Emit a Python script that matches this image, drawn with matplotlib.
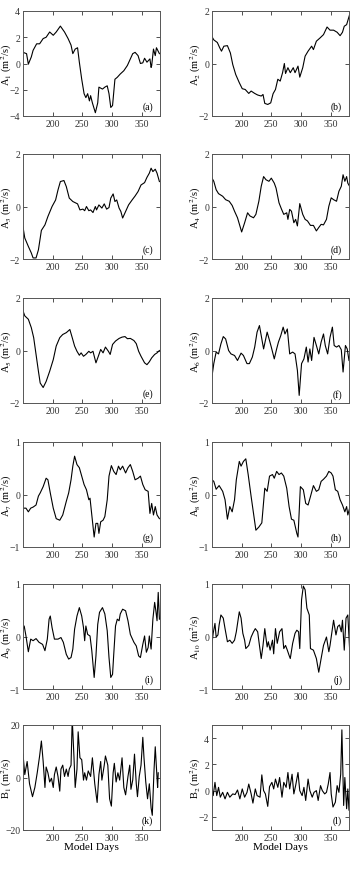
import matplotlib
matplotlib.use('Agg')
import matplotlib.pyplot as plt

plt.rcParams['font.family'] = ['Liberation Serif', 'DejaVu Serif']
plt.rcParams['mathtext.fontset'] = 'stix'

# (a) A1
day_a = [150, 156, 159, 164, 167, 173, 178, 184, 189, 195, 201, 206, 213, 220, 226, 231, 234, 238, 242, 245,
         249, 253, 256, 259, 262, 264, 267, 272, 276, 278, 284, 288, 292, 295, 298, 301, 305, 309, 314, 320,
         326, 331, 335, 339, 344, 348, 352, 355, 359, 364, 366, 367, 370, 373, 375, 380]
val_a = [0.85, 0.75, -0.05, 0.5, 1.0, 1.5, 1.5, 1.9, 2.0, 2.4, 2.15, 2.4, 2.85, 2.4, 1.9, 1.4, 0.75, 1.1, 1.2, 0.1,
         -1.2, -2.3, -2.6, -2.3, -2.85, -2.45, -3.0, -3.75, -3.0, -1.8, -1.95, -1.8, -1.7, -2.3, -3.35, -3.2, -1.2, -1.05, -0.8, -0.55,
         -0.15, 0.35, 0.75, 0.85, 0.6, 0.0, 0.05, 0.4, 0.1, 0.35, -0.3, -0.15, 1.1, 0.6, 1.2, 0.75]

# (b) A2
day_b = [149, 153, 159, 163, 166, 170, 176, 181, 185, 190, 196, 201, 206, 212, 216, 222, 227, 233, 236, 239,
         244, 249, 253, 257, 261, 265, 269, 272, 274, 278, 282, 287, 290, 295, 298, 303, 307, 312, 318, 321,
         326, 332, 338, 344, 349, 355, 361, 366, 370, 373, 377, 382]
val_b = [1.06, 0.9, 0.8, 0.6, 0.47, 0.66, 0.68, 0.4, -0.04, -0.42, -0.73, -0.96, -0.99, -1.14, -1.05, -1.14, -1.2, -1.24, -1.18, -1.52,
         -1.56, -1.5, -1.15, -0.99, -0.6, -0.67, -0.35, 0.0, -0.38, -0.16, -0.35, -0.16, -0.35, -0.1, -0.52, -0.16, 0.28, 0.47, 0.66, 0.53,
         0.85, 0.97, 1.1, 1.39, 1.27, 1.27, 1.19, 1.06, 1.19, 1.42, 1.48, 1.86]

# (c) A3
day_c = [150, 153, 159, 164, 167, 172, 176, 181, 187, 192, 199, 205, 209, 213, 219, 223, 228, 234, 242, 246,
         251, 254, 257, 261, 264, 268, 272, 274, 278, 283, 287, 291, 295, 298, 302, 305, 308, 312, 315, 318,
         323, 328, 334, 339, 344, 349, 355, 359, 363, 366, 369, 373, 376, 380]
val_c = [-0.78, -1.2, -1.52, -1.77, -1.96, -1.96, -1.65, -0.91, -0.7, -0.38, 0.0, 0.25, 0.63, 0.95, 0.99, 0.76, 0.32, 0.19, 0.1, -0.13,
         -0.1, -0.16, 0.0, -0.16, -0.13, -0.23, 0.0, -0.13, 0.06, -0.06, 0.1, -0.1, -0.04, 0.32, 0.48, 0.19, 0.25, -0.06, -0.19, -0.44,
         -0.19, 0.06, 0.25, 0.4, 0.57, 0.82, 0.91, 1.11, 1.27, 1.46, 1.33, 1.42, 1.27, 0.95]

# (d) A4
day_d = [149, 153, 157, 161, 168, 173, 179, 184, 188, 193, 200, 205, 210, 214, 220, 224, 229, 233, 237, 241,
         246, 250, 255, 258, 263, 267, 271, 276, 278, 281, 284, 288, 291, 294, 298, 303, 307, 311, 316, 321,
         326, 330, 334, 338, 343, 347, 351, 355, 360, 364, 368, 371, 374, 377, 379, 382]
val_d = [1.12, 0.96, 0.64, 0.49, 0.39, 0.26, 0.2, 0.04, -0.18, -0.43, -0.97, -0.62, -0.24, -0.36, -0.43, -0.3, 0.2, 0.77, 1.14, 1.02,
         0.96, 1.08, 0.89, 0.7, 0.14, -0.09, -0.3, -0.24, -0.49, -0.11, -0.18, -0.62, -0.49, -0.74, 0.11, -0.3, -0.49, -0.55, -0.72, -0.72,
         -0.93, -0.8, -0.68, -0.7, -0.49, 0.01, 0.33, 0.26, 0.2, 0.58, 0.77, 1.21, 0.96, 1.14, 0.89, 0.77]

# (e) A5
day_e = [150, 153, 159, 164, 168, 172, 176, 179, 184, 189, 195, 201, 206, 212, 217, 223, 229, 233, 237, 241,
         245, 248, 252, 256, 261, 264, 268, 273, 277, 281, 285, 289, 294, 297, 301, 306, 312, 317, 322, 326,
         331, 337, 341, 345, 349, 355, 359, 363, 367, 372, 376, 380]
val_e = [1.51, 1.32, 1.19, 0.87, 0.49, -0.15, -0.79, -1.24, -1.41, -1.18, -0.79, -0.35, 0.17, 0.49, 0.61, 0.68, 0.8, 0.49, 0.17, -0.03,
         -0.18, -0.09, -0.22, -0.15, -0.03, -0.09, -0.03, -0.47, -0.22, 0.04, -0.09, 0.13, -0.03, -0.15, 0.23, 0.36, 0.46, 0.51, 0.53, 0.45,
         0.46, 0.38, 0.26, -0.03, -0.22, -0.47, -0.54, -0.43, -0.28, -0.15, -0.09, 0.0]

# (f) A6
day_f = [149, 153, 157, 161, 165, 169, 173, 178, 182, 188, 193, 199, 203, 209, 213, 218, 222, 226, 230, 234,
         237, 243, 247, 250, 255, 259, 262, 266, 270, 273, 277, 281, 286, 290, 294, 297, 301, 305, 309, 312,
         315, 318, 322, 326, 330, 334, 338, 341, 345, 349, 353, 356, 360, 364, 368, 371, 375, 378, 381]
val_f = [-1.14, -0.5, -0.06, -0.13, 0.25, 0.53, 0.44, 0.0, -0.13, -0.19, -0.38, -0.1, -0.19, -0.5, -0.5, -0.25, 0.13, 0.7, 0.95, 0.44,
         0.06, 0.7, 0.38, 0.13, -0.32, 0.06, 0.32, 0.57, 0.89, 0.63, 0.82, -0.13, -0.06, -0.13, -0.76, -1.71, -0.5, -0.32, 0.13, -0.44,
         0.06, -0.38, 0.5, 0.19, -0.13, 0.32, 0.63, 0.19, -0.13, 0.5, 0.89, 0.19, 0.13, 0.19, 0.03, -0.82, 0.19, 0.06, -0.38]

# (g) A7
day_g = [150, 155, 159, 163, 167, 172, 176, 179, 184, 189, 192, 196, 201, 206, 212, 217, 223, 227, 231, 234,
         237, 241, 245, 249, 253, 257, 261, 263, 266, 270, 273, 276, 278, 281, 285, 288, 292, 295, 299, 303,
         307, 311, 314, 318, 323, 327, 331, 335, 339, 344, 348, 352, 356, 361, 364, 367, 370, 373, 376, 380]
val_g = [-0.26, -0.26, -0.33, -0.26, -0.24, -0.2, -0.03, 0.03, 0.15, 0.31, 0.28, 0.03, -0.26, -0.46, -0.49, -0.39, -0.13, 0.03, 0.28, 0.54,
         0.73, 0.57, 0.51, 0.35, 0.19, 0.09, -0.1, -0.07, -0.39, -0.81, -0.55, -0.55, -0.74, -0.52, -0.49, -0.42, -0.1, 0.35, 0.55, 0.44,
         0.38, 0.54, 0.47, 0.54, 0.41, 0.51, 0.57, 0.44, 0.28, 0.31, 0.35, 0.19, 0.09, 0.06, -0.36, -0.17, -0.39, -0.23, -0.39, -0.46]

# (h) A8
day_h = [149, 153, 157, 162, 168, 172, 176, 180, 184, 188, 191, 196, 199, 203, 207, 211, 216, 220, 224, 229,
         234, 239, 243, 247, 252, 255, 259, 263, 267, 271, 276, 280, 284, 288, 293, 295, 299, 304, 308, 312,
         316, 321, 326, 330, 334, 338, 343, 347, 351, 354, 358, 362, 366, 370, 374, 377, 379, 382]
val_h = [0.29, 0.25, 0.1, 0.17, 0.06, -0.1, -0.47, -0.23, -0.33, -0.1, 0.28, 0.63, 0.54, 0.63, 0.68, 0.38, -0.04, -0.36, -0.68, -0.62,
         -0.54, 0.12, 0.06, 0.35, 0.38, 0.31, 0.44, 0.38, 0.41, 0.35, 0.12, -0.23, -0.47, -0.49, -0.74, -0.81, 0.15, 0.09, -0.17, -0.2,
         -0.04, 0.17, 0.06, 0.09, 0.25, 0.29, 0.35, 0.44, 0.41, 0.35, 0.09, 0.06, -0.1, -0.2, -0.33, -0.23, -0.39, -0.26]

# (i) A9
day_i = [150, 152, 155, 159, 163, 167, 172, 177, 183, 187, 191, 194, 196, 199, 203, 209, 214, 218, 223, 227,
         231, 234, 237, 241, 245, 249, 252, 254, 256, 259, 263, 266, 270, 273, 276, 279, 284, 288, 292, 295,
         298, 301, 303, 306, 309, 312, 314, 318, 323, 327, 331, 337, 341, 345, 348, 352, 355, 358, 361, 363,
         366, 369, 372, 374, 376, 378, 380]
val_i = [0.14, 0.2, 0.01, -0.29, -0.05, -0.08, -0.04, -0.11, -0.15, -0.27, -0.05, 0.33, 0.39, 0.17, -0.05, -0.05, -0.02, -0.11, -0.34, -0.43,
         -0.4, -0.24, 0.14, 0.39, 0.55, 0.39, 0.17, -0.08, 0.2, 0.04, 0.01, -0.27, -0.78, -0.37, 0.23, 0.46, 0.55, 0.43, 0.11, -0.4,
         -0.78, -0.72, -0.34, 0.2, 0.33, 0.3, 0.43, 0.52, 0.49, 0.3, 0.04, -0.11, -0.18, -0.37, -0.4, -0.15, 0.01, -0.3, -0.21, 0.01,
         -0.24, 0.33, 0.65, 0.49, 0.3, 0.84, 0.33]

# (j) A10
day_j = [149, 152, 155, 157, 160, 162, 165, 169, 172, 176, 180, 184, 188, 191, 196, 199, 202, 205, 207, 212,
         216, 220, 223, 227, 230, 233, 236, 239, 243, 245, 248, 252, 254, 257, 260, 264, 268, 271, 274, 277,
         280, 282, 286, 290, 293, 296, 298, 301, 304, 307, 310, 314, 316, 321, 326, 330, 334, 338, 343, 347,
         349, 353, 355, 359, 362, 365, 368, 370, 373, 376, 379, 382]
val_j = [-0.23, 0.06, 0.25, -0.01, 0.03, 0.22, 0.41, 0.35, 0.15, -0.1, -0.07, -0.13, -0.07, 0.09, 0.47, 0.35, 0.06, -0.07, -0.23, -0.17,
         -0.01, 0.09, 0.15, 0.09, -0.17, -0.42, -0.17, 0.15, -0.2, -0.1, -0.26, -0.07, -0.33, 0.15, -0.13, 0.09, 0.15, -0.23, -0.17, -0.26,
         -0.36, -0.42, -0.13, 0.06, 0.12, 0.09, -0.23, 0.7, 0.96, 0.89, 0.54, 0.41, -0.23, -0.26, -0.42, -0.68, -0.42, -0.17, -0.01, -0.29,
         -0.17, 0.15, 0.31, 0.03, 0.19, 0.22, 0.09, 0.31, -0.26, 0.35, 0.41, -0.23]

# (k) B1
day_k = [150, 153, 157, 161, 166, 170, 174, 178, 181, 184, 187, 189, 192, 195, 198, 201, 203, 206, 209, 212,
         214, 217, 220, 223, 226, 228, 231, 233, 236, 238, 241, 243, 246, 249, 252, 254, 257, 260, 264, 267,
         271, 275, 278, 281, 283, 287, 289, 293, 296, 299, 302, 304, 307, 310, 313, 317, 320, 323, 327, 330,
         332, 335, 338, 341, 343, 346, 349, 352, 354, 357, 360, 363, 366, 368, 371, 373, 376, 377, 378]
val_k = [8.9, 1.1, 6.1, -2.4, -7.3, -3.8, 1.8, 8.2, 13.9, 6.1, -3.8, 4.0, 1.8, -1.7, -0.3, -3.8, 1.1, 4.0, 0.4, -5.2,
         3.2, 4.7, 0.4, 3.2, 0.4, 3.2, 4.7, 22.3, 7.5, -3.8, 3.2, 17.4, 7.5, 6.8, -1.0, 1.8, -1.0, 2.5, 0.4, 7.5,
         -2.4, -9.5, 1.1, 6.1, -1.0, 4.7, 8.2, 4.7, -8.1, -10.9, 1.8, 5.4, -1.7, 1.8, -1.0, 7.5, -3.8, -6.6, 0.4, 4.7,
         -4.5, -1.0, 8.9, -2.4, -7.3, 0.4, 4.7, 15.3, 7.5, -1.7, -8.1, -2.4, -11.6, -14.4, 3.2, 11.7, -0.3, -3.8, 1.8]

# (l) B2
day_l = [149, 152, 155, 158, 161, 164, 168, 172, 176, 180, 185, 189, 193, 197, 201, 205, 209, 212, 216, 219,
         223, 226, 231, 234, 237, 240, 244, 247, 251, 254, 257, 261, 264, 268, 271, 275, 278, 281, 285, 288,
         291, 295, 298, 302, 305, 308, 312, 315, 319, 322, 326, 329, 333, 336, 340, 343, 346, 349, 351, 354,
         358, 361, 364, 367, 369, 372, 374, 377, 379, 381, 382]
val_l = [0.25, -0.38, 0.63, -0.38, 0.25, -0.5, -0.13, -0.63, -0.13, -0.5, -0.25, -0.3, 0.05, -0.63, 0.13, -0.5, -0.13, 0.5, -0.25, -0.95,
         0.13, -0.38, -0.5, 1.2, 0.0, -0.25, -1.2, 0.3, 0.63, 0.13, 0.88, 0.25, 1.0, -0.5, 0.63, 0.25, 1.38, 0.13, 1.25, -0.25,
         0.38, 1.38, 0.0, -0.38, 0.25, -0.75, 0.88, 0.0, -0.5, -0.13, 0.0, -0.75, 0.38, 0.0, -0.25, -0.13, 0.5, 1.38, -0.25, -1.25,
         -0.88, 0.38, -0.13, 1.25, 4.63, -1.13, 1.0, -1.38, 0.13, -1.5, -0.5]

panels = [
    (day_a, val_a, 'A$_1$', '(a)', (-4, 4), [-4, -2, 0, 2, 4]),
    (day_b, val_b, 'A$_2$', '(b)', (-2, 2), [-2, 0, 2]),
    (day_c, val_c, 'A$_3$', '(c)', (-2, 2), [-2, 0, 2]),
    (day_d, val_d, 'A$_4$', '(d)', (-2, 2), [-2, 0, 2]),
    (day_e, val_e, 'A$_5$', '(e)', (-2, 2), [-2, 0, 2]),
    (day_f, val_f, 'A$_6$', '(f)', (-2, 2), [-2, 0, 2]),
    (day_g, val_g, 'A$_7$', '(g)', (-1, 1), [-1, 0, 1]),
    (day_h, val_h, 'A$_8$', '(h)', (-1, 1), [-1, 0, 1]),
    (day_i, val_i, 'A$_9$', '(i)', (-1, 1), [-1, 0, 1]),
    (day_j, val_j, 'A$_{10}$', '(j)', (-1, 1), [-1, 0, 1]),
    (day_k, val_k, 'B$_1$', '(k)', (-20, 20), [-20, 0, 20]),
    (day_l, val_l, 'B$_2$', '(l)', (-3, 5), [-2, 0, 2, 4]),
]

W, H = 352, 870
fig = plt.figure(figsize=(W / 100, H / 100), dpi=100)

lefts = [23, 212]
width = 137
tops = [12, 155, 299, 443, 585, 726]
height = 105

for i, (x, y, name, tag, ylim, yticks) in enumerate(panels):
    row, col = divmod(i, 2)
    ax = fig.add_axes([lefts[col] / W, 1 - (tops[row] + height) / H, width / W, height / H])
    ax.plot(x, y, color='black', lw=0.8)
    ax.set_xlim(150, 381)
    ax.set_ylim(*ylim)
    ax.set_xticks([200, 250, 300, 350])
    ax.set_yticks(yticks)
    ax.tick_params(direction='in', top=True, right=True, length=3, width=0.6,
                   labelsize=7, pad=2, colors='#333333')
    for s in ax.spines.values():
        s.set_linewidth(0.7)
        s.set_color('#555555')
    ax.set_ylabel(name + ' (m$^2$/s)', fontsize=7.5)
    ax.yaxis.set_label_coords(-0.068, 0.5)
    ax.text(0.95, 0.09, tag, transform=ax.transAxes, ha='right', va='center', fontsize=7)
    if row == 5:
        ax.set_xlabel('Model Days', fontsize=8, labelpad=0)

fig.savefig('out.png', dpi=100)
